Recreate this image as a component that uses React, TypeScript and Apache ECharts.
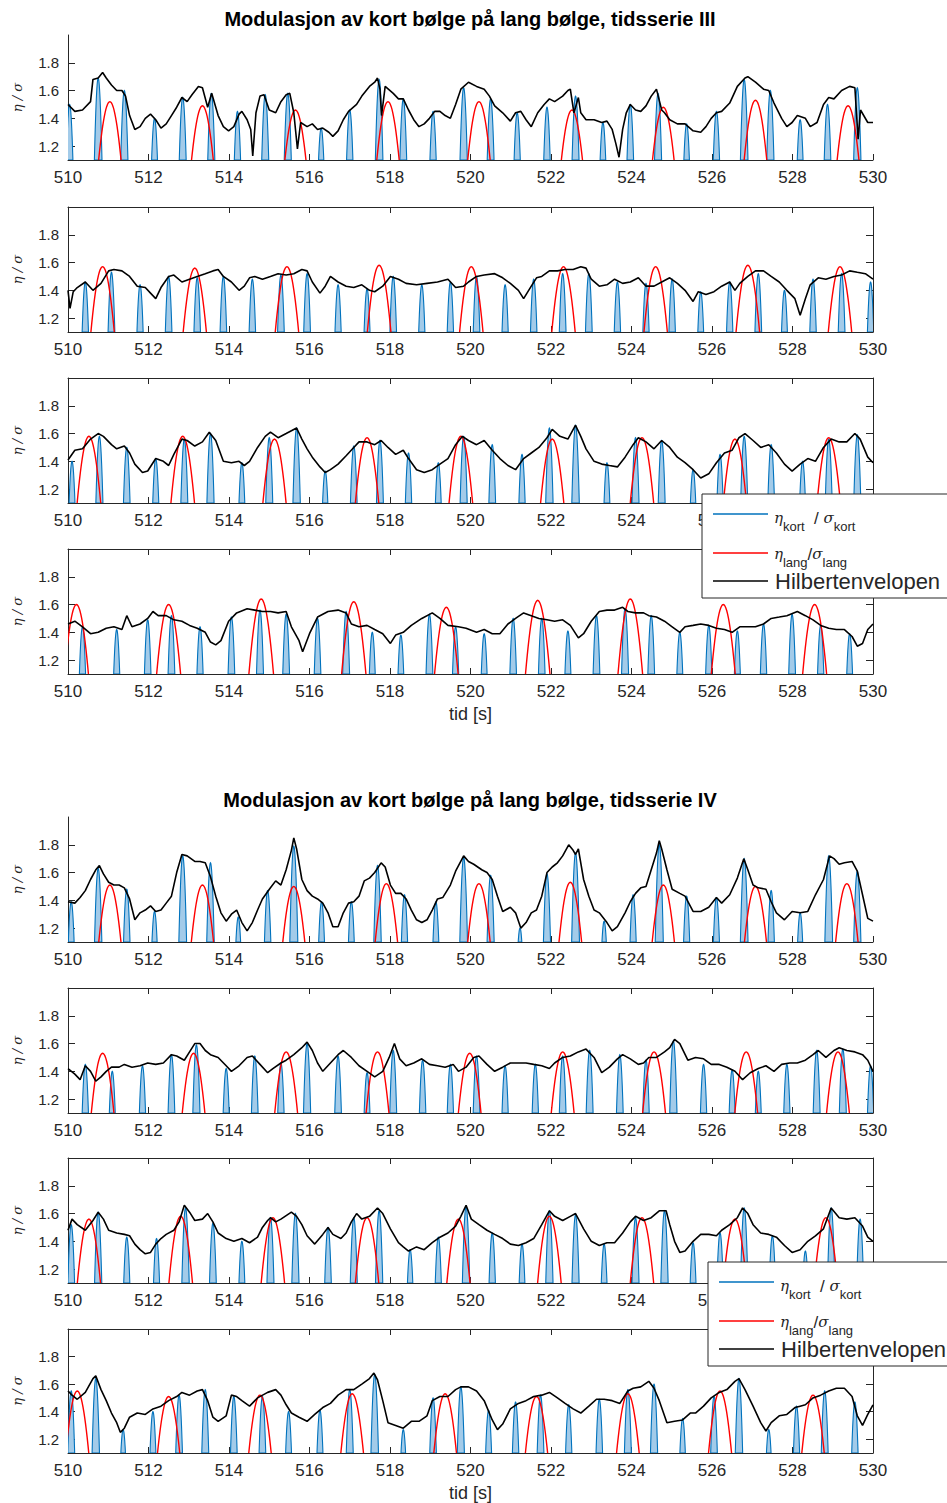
import React, { useEffect, useRef } from 'react';
import * as echarts from 'echarts';

// ---------- data ----------
const X_MIN = 510;
const X_MAX = 530;
const X_STEP = 2;
const Y_MIN = 1.1;
const Y_MAX = 2.0;
const Y_TICKS = [1.2, 1.4, 1.6, 1.8];

const TITLES = [
  'Modulasjon av kort bølge på lang bølge, tidsserie III',
  'Modulasjon av kort bølge på lang bølge, tidsserie IV',
];
const X_LABEL = 'tid [s]';
const Y_LABEL = 'η / σ';
const LEGEND_HILBERT = 'Hilbertenvelopen';

// Hilbert envelope [t, value]
const ENV_1: [number, number][] = [
  [510.00,1.50],[510.17,1.45],[510.36,1.46],[510.56,1.52],[510.62,1.68],[510.75,1.69],[510.86,1.73],[510.95,1.69],
  [511.08,1.64],[511.21,1.60],[511.34,1.60],[511.43,1.56],[511.53,1.42],[511.66,1.32],[511.79,1.34],[511.92,1.40],
  [512.05,1.43],[512.18,1.39],[512.31,1.33],[512.44,1.36],[512.57,1.42],[512.70,1.48],[512.83,1.55],[512.96,1.52],
  [513.08,1.57],[513.24,1.63],[513.34,1.62],[513.47,1.48],[513.57,1.58],[513.73,1.42],[513.86,1.34],[513.99,1.31],
  [514.12,1.34],[514.25,1.43],[514.32,1.45],[514.45,1.39],[514.54,1.32],[514.59,1.13],[514.67,1.44],[514.77,1.56],
  [514.87,1.57],[515.00,1.46],[515.16,1.44],[515.29,1.52],[515.42,1.57],[515.51,1.58],[515.61,1.44],[515.70,1.18],
  [515.78,1.37],[515.94,1.34],[516.07,1.36],[516.20,1.32],[516.33,1.33],[516.48,1.30],[516.58,1.27],[516.71,1.31],
  [516.84,1.39],[516.97,1.45],[517.17,1.50],[517.30,1.56],[517.49,1.63],[517.62,1.66],[517.69,1.69],[517.75,1.61],
  [517.79,1.42],[517.88,1.63],[518.08,1.58],[518.21,1.54],[518.33,1.54],[518.46,1.46],[518.59,1.39],[518.72,1.34],
  [518.85,1.36],[518.98,1.40],[519.11,1.45],[519.24,1.45],[519.37,1.42],[519.50,1.40],[519.63,1.50],[519.76,1.61],
  [519.95,1.66],[520.15,1.63],[520.34,1.61],[520.47,1.56],[520.60,1.49],[520.80,1.44],[520.99,1.38],[521.12,1.44],
  [521.25,1.45],[521.38,1.39],[521.51,1.34],[521.67,1.44],[521.83,1.50],[521.96,1.54],[522.09,1.52],[522.29,1.56],
  [522.42,1.60],[522.48,1.61],[522.57,1.44],[522.68,1.55],[522.74,1.44],[522.87,1.39],[523.07,1.39],[523.26,1.37],
  [523.39,1.38],[523.52,1.32],[523.61,1.22],[523.69,1.12],[523.78,1.32],[523.87,1.44],[523.97,1.50],[524.10,1.46],
  [524.23,1.45],[524.36,1.49],[524.49,1.56],[524.62,1.61],[524.75,1.46],[524.82,1.44],[524.95,1.39],[525.14,1.36],
  [525.33,1.36],[525.53,1.31],[525.72,1.30],[525.85,1.34],[525.98,1.40],[526.11,1.44],[526.24,1.45],[526.44,1.51],
  [526.63,1.63],[526.82,1.69],[526.89,1.70],[527.08,1.66],[527.28,1.61],[527.41,1.60],[527.54,1.51],[527.73,1.40],
  [527.86,1.34],[527.99,1.37],[528.12,1.42],[528.32,1.40],[528.44,1.34],[528.61,1.37],[528.77,1.50],[528.90,1.55],
  [529.03,1.54],[529.22,1.60],[529.42,1.63],[529.55,1.62],[529.63,1.25],[529.69,1.46],[529.87,1.37],[530.00,1.37],
];
const ENV_2: [number, number][] = [
  [510.00,1.40],[510.05,1.27],[510.13,1.39],[510.23,1.42],[510.43,1.46],[510.62,1.40],[510.82,1.45],[511.01,1.54],
  [511.14,1.55],[511.34,1.54],[511.53,1.50],[511.72,1.43],[511.92,1.42],[512.05,1.38],[512.18,1.34],[512.31,1.42],
  [512.50,1.50],[512.63,1.51],[512.83,1.46],[513.02,1.48],[513.21,1.50],[513.41,1.52],[513.60,1.54],[513.73,1.55],
  [513.86,1.50],[514.06,1.46],[514.25,1.40],[514.38,1.43],[514.51,1.49],[514.64,1.50],[514.83,1.48],[515.03,1.50],
  [515.22,1.52],[515.42,1.51],[515.61,1.52],[515.81,1.55],[515.94,1.54],[516.07,1.46],[516.26,1.38],[516.39,1.43],
  [516.52,1.50],[516.71,1.46],[516.91,1.43],[517.10,1.42],[517.30,1.44],[517.49,1.40],[517.62,1.39],[517.82,1.43],
  [518.01,1.50],[518.21,1.48],[518.40,1.45],[518.66,1.44],[518.92,1.45],[519.18,1.46],[519.44,1.48],[519.63,1.42],
  [519.83,1.43],[519.95,1.46],[520.15,1.50],[520.34,1.51],[520.60,1.52],[520.80,1.49],[520.99,1.45],[521.19,1.40],
  [521.32,1.34],[521.51,1.43],[521.64,1.49],[521.77,1.50],[521.96,1.54],[522.16,1.54],[522.35,1.55],[522.55,1.55],
  [522.74,1.57],[522.87,1.56],[523.00,1.48],[523.20,1.43],[523.39,1.44],[523.58,1.48],[523.78,1.45],[523.97,1.46],
  [524.17,1.49],[524.36,1.43],[524.56,1.43],[524.75,1.46],[524.95,1.49],[525.14,1.45],[525.33,1.40],[525.53,1.32],
  [525.66,1.39],[525.85,1.37],[526.05,1.39],[526.24,1.43],[526.44,1.46],[526.57,1.40],[526.69,1.45],[526.89,1.50],
  [527.08,1.54],[527.28,1.54],[527.47,1.50],[527.67,1.46],[527.86,1.40],[528.06,1.34],[528.19,1.22],[528.32,1.34],
  [528.44,1.44],[528.64,1.49],[528.83,1.48],[529.03,1.50],[529.22,1.51],[529.42,1.54],[529.61,1.53],[529.81,1.52],
  [530.00,1.48],
];
const ENV_3: [number, number][] = [
  [510.00,1.41],[510.17,1.48],[510.36,1.49],[510.56,1.56],[510.75,1.60],[510.88,1.58],[511.08,1.52],[511.21,1.49],
  [511.40,1.51],[511.53,1.46],[511.66,1.38],[511.85,1.32],[511.98,1.33],[512.18,1.42],[512.37,1.40],[512.50,1.37],
  [512.63,1.45],[512.83,1.56],[512.96,1.55],[513.15,1.51],[513.34,1.54],[513.51,1.61],[513.67,1.55],[513.86,1.40],
  [514.06,1.39],[514.25,1.40],[514.38,1.37],[514.51,1.40],[514.71,1.50],[514.90,1.58],[515.03,1.61],[515.22,1.57],
  [515.42,1.60],[515.68,1.64],[515.81,1.56],[515.94,1.49],[516.07,1.43],[516.26,1.36],[516.39,1.32],[516.52,1.34],
  [516.71,1.38],[516.91,1.44],[517.10,1.50],[517.23,1.54],[517.43,1.54],[517.62,1.52],[517.78,1.55],[517.95,1.50],
  [518.14,1.45],[518.33,1.48],[518.46,1.42],[518.66,1.34],[518.85,1.32],[519.05,1.34],[519.24,1.38],[519.44,1.42],
  [519.63,1.52],[519.80,1.58],[519.95,1.55],[520.15,1.52],[520.34,1.55],[520.54,1.48],[520.73,1.42],[520.93,1.37],
  [521.12,1.34],[521.32,1.42],[521.51,1.46],[521.70,1.50],[521.90,1.57],[522.03,1.63],[522.22,1.58],[522.42,1.56],
  [522.61,1.66],[522.74,1.58],[522.87,1.49],[523.07,1.40],[523.26,1.38],[523.45,1.37],[523.65,1.36],[523.84,1.43],
  [524.04,1.52],[524.17,1.57],[524.36,1.54],[524.56,1.49],[524.75,1.55],[524.95,1.50],[525.14,1.43],[525.33,1.39],
  [525.53,1.34],[525.72,1.28],[525.92,1.31],[526.11,1.39],[526.31,1.46],[526.50,1.48],[526.67,1.57],[526.82,1.60],
  [527.02,1.55],[527.21,1.50],[527.41,1.52],[527.60,1.46],[527.80,1.38],[527.99,1.33],[528.19,1.38],[528.38,1.42],
  [528.57,1.40],[528.77,1.50],[528.96,1.56],[529.16,1.54],[529.35,1.54],[529.55,1.60],[529.68,1.56],[529.87,1.43],
  [530.00,1.39],
];
const ENV_4: [number, number][] = [
  [510.00,1.46],[510.17,1.48],[510.36,1.44],[510.56,1.39],[510.75,1.40],[510.95,1.43],[511.14,1.44],[511.34,1.42],
  [511.46,1.52],[511.59,1.44],[511.79,1.46],[511.98,1.50],[512.11,1.55],[512.24,1.52],[512.44,1.52],[512.63,1.49],
  [512.83,1.48],[513.02,1.45],[513.21,1.43],[513.41,1.40],[513.54,1.33],[513.67,1.31],[513.80,1.34],[513.99,1.48],
  [514.19,1.54],[514.45,1.57],[514.64,1.56],[514.83,1.55],[515.03,1.55],[515.22,1.54],[515.42,1.55],[515.55,1.44],
  [515.74,1.34],[515.83,1.26],[516.00,1.39],[516.20,1.51],[516.46,1.55],[516.71,1.56],[516.91,1.54],[517.04,1.46],
  [517.23,1.44],[517.43,1.45],[517.62,1.42],[517.82,1.39],[518.01,1.32],[518.14,1.38],[518.33,1.40],[518.53,1.45],
  [518.79,1.50],[519.05,1.54],[519.24,1.50],[519.44,1.45],[519.70,1.44],[519.89,1.43],[520.15,1.40],[520.34,1.42],
  [520.54,1.39],[520.73,1.39],[520.93,1.46],[521.12,1.50],[521.32,1.54],[521.51,1.52],[521.70,1.50],[521.90,1.49],
  [522.09,1.48],[522.29,1.49],[522.48,1.45],[522.68,1.36],[522.81,1.39],[523.00,1.48],[523.20,1.55],[523.39,1.56],
  [523.58,1.56],[523.78,1.58],[523.91,1.55],[524.10,1.54],[524.30,1.54],[524.43,1.52],[524.62,1.51],[524.82,1.48],
  [525.01,1.44],[525.20,1.40],[525.33,1.44],[525.53,1.45],[525.72,1.46],[525.92,1.45],[526.11,1.43],[526.31,1.42],
  [526.50,1.40],[526.69,1.44],[526.89,1.44],[527.08,1.44],[527.28,1.46],[527.47,1.50],[527.67,1.51],[527.86,1.52],
  [528.12,1.55],[528.32,1.52],[528.51,1.49],[528.70,1.45],[528.90,1.43],[529.09,1.42],[529.29,1.42],[529.48,1.37],
  [529.61,1.30],[529.74,1.32],[529.87,1.42],[530.00,1.46],
];
const ENV_5: [number, number][] = [
  [510.00,1.39],[510.17,1.38],[510.30,1.42],[510.43,1.47],[510.56,1.55],[510.69,1.62],[510.78,1.65],[510.88,1.59],
  [511.01,1.53],[511.14,1.51],[511.27,1.51],[511.40,1.49],[511.53,1.41],[511.66,1.26],[511.79,1.31],[511.92,1.33],
  [512.05,1.36],[512.18,1.32],[512.31,1.33],[512.44,1.38],[512.57,1.43],[512.70,1.60],[512.83,1.73],[512.96,1.72],
  [513.15,1.68],[513.28,1.68],[513.41,1.67],[513.54,1.57],[513.67,1.43],[513.80,1.31],[513.93,1.25],[514.06,1.30],
  [514.19,1.33],[514.32,1.24],[514.45,1.18],[514.58,1.24],[514.71,1.33],[514.83,1.41],[515.03,1.49],[515.16,1.54],
  [515.29,1.51],[515.42,1.62],[515.55,1.76],[515.61,1.85],[515.68,1.77],[515.81,1.55],[515.94,1.47],[516.07,1.43],
  [516.20,1.41],[516.33,1.38],[516.46,1.31],[516.58,1.21],[516.71,1.21],[516.84,1.31],[516.97,1.38],[517.10,1.39],
  [517.23,1.43],[517.36,1.54],[517.49,1.56],[517.62,1.60],[517.78,1.67],[517.88,1.64],[518.01,1.51],[518.14,1.45],
  [518.27,1.45],[518.40,1.41],[518.53,1.33],[518.66,1.26],[518.79,1.24],[518.92,1.26],[519.05,1.33],[519.18,1.41],
  [519.31,1.42],[519.50,1.51],[519.63,1.61],[519.83,1.72],[519.95,1.68],[520.08,1.66],[520.28,1.62],[520.41,1.60],
  [520.54,1.55],[520.67,1.43],[520.80,1.32],[520.99,1.35],[521.12,1.31],[521.25,1.20],[521.38,1.24],[521.51,1.31],
  [521.64,1.33],[521.77,1.43],[521.90,1.60],[522.03,1.64],[522.16,1.67],[522.29,1.72],[522.44,1.80],[522.55,1.76],
  [522.61,1.73],[522.68,1.77],[522.81,1.55],[522.94,1.43],[523.07,1.33],[523.20,1.31],[523.39,1.24],[523.52,1.18],
  [523.65,1.21],[523.84,1.31],[523.97,1.39],[524.10,1.45],[524.23,1.49],[524.36,1.50],[524.49,1.62],[524.62,1.74],
  [524.69,1.83],[524.75,1.77],[524.88,1.62],[525.01,1.48],[525.20,1.45],[525.33,1.43],[525.53,1.32],[525.72,1.32],
  [525.92,1.35],[526.11,1.42],[526.24,1.38],[526.44,1.44],[526.63,1.56],[526.79,1.70],[526.89,1.62],[527.02,1.51],
  [527.15,1.49],[527.34,1.48],[527.47,1.39],[527.60,1.31],[527.80,1.26],[527.99,1.32],[528.19,1.31],[528.38,1.32],
  [528.57,1.44],[528.77,1.55],[528.92,1.72],[529.03,1.70],[529.16,1.66],[529.29,1.67],[529.48,1.68],[529.61,1.61],
  [529.74,1.44],[529.87,1.27],[530.00,1.25],
];
const ENV_6: [number, number][] = [
  [510.00,1.42],[510.17,1.38],[510.30,1.34],[510.43,1.44],[510.56,1.40],[510.69,1.33],[510.82,1.36],[510.95,1.40],
  [511.08,1.43],[511.27,1.43],[511.40,1.45],[511.59,1.43],[511.79,1.44],[511.98,1.46],[512.18,1.45],[512.37,1.46],
  [512.57,1.52],[512.70,1.51],[512.89,1.48],[513.02,1.54],[513.15,1.60],[513.28,1.60],[513.41,1.55],[513.54,1.52],
  [513.73,1.50],[513.93,1.44],[514.06,1.40],[514.25,1.44],[514.45,1.50],[514.58,1.51],[514.77,1.45],[514.96,1.39],
  [515.09,1.42],[515.29,1.46],[515.42,1.48],[515.61,1.52],[515.81,1.57],[515.94,1.61],[516.07,1.55],[516.20,1.46],
  [516.33,1.40],[516.52,1.46],[516.71,1.52],[516.84,1.55],[517.04,1.50],[517.23,1.44],[517.43,1.40],[517.62,1.36],
  [517.82,1.40],[517.98,1.50],[518.11,1.60],[518.24,1.49],[518.40,1.44],[518.59,1.46],[518.79,1.49],[518.98,1.45],
  [519.18,1.44],[519.37,1.43],[519.57,1.45],[519.70,1.40],[519.89,1.43],[520.08,1.50],[520.21,1.51],[520.41,1.45],
  [520.60,1.40],[520.80,1.43],[520.99,1.46],[521.19,1.46],[521.38,1.46],[521.57,1.45],[521.77,1.44],[521.96,1.42],
  [522.09,1.46],[522.29,1.50],[522.48,1.51],[522.68,1.54],[522.87,1.56],[523.07,1.50],[523.26,1.39],[523.45,1.43],
  [523.65,1.49],[523.78,1.52],[523.97,1.49],[524.17,1.45],[524.30,1.46],[524.43,1.50],[524.62,1.50],[524.82,1.54],
  [524.95,1.57],[525.07,1.63],[525.20,1.60],[525.40,1.48],[525.59,1.50],[525.79,1.49],[525.98,1.45],[526.18,1.45],
  [526.37,1.43],[526.57,1.40],[526.76,1.34],[526.95,1.39],[527.15,1.42],[527.34,1.44],[527.54,1.40],[527.73,1.45],
  [527.93,1.46],[528.12,1.46],[528.32,1.48],[528.51,1.52],[528.64,1.55],[528.83,1.50],[529.03,1.55],[529.16,1.57],
  [529.35,1.55],[529.55,1.54],[529.74,1.52],[529.87,1.48],[530.00,1.40],
];
const ENV_7: [number, number][] = [
  [510.00,1.48],[510.10,1.56],[510.23,1.52],[510.43,1.48],[510.62,1.55],[510.75,1.61],[510.88,1.56],[511.01,1.48],
  [511.21,1.46],[511.40,1.45],[511.53,1.44],[511.66,1.38],[511.79,1.34],[511.92,1.31],[512.05,1.32],[512.18,1.38],
  [512.31,1.42],[512.44,1.45],[512.63,1.48],[512.76,1.54],[512.89,1.66],[513.02,1.61],[513.15,1.55],[513.34,1.56],
  [513.47,1.60],[513.60,1.54],[513.73,1.46],[513.93,1.42],[514.12,1.40],[514.32,1.42],[514.51,1.39],[514.71,1.43],
  [514.83,1.50],[514.96,1.55],[515.03,1.57],[515.16,1.54],[515.29,1.56],[515.55,1.61],[515.68,1.58],[515.81,1.52],
  [515.94,1.44],[516.13,1.38],[516.33,1.45],[516.46,1.50],[516.58,1.45],[516.78,1.42],[516.91,1.46],[517.04,1.54],
  [517.17,1.60],[517.30,1.56],[517.49,1.58],[517.69,1.64],[517.82,1.60],[518.01,1.49],[518.21,1.39],[518.33,1.36],
  [518.46,1.33],[518.66,1.36],[518.85,1.34],[519.05,1.39],[519.24,1.43],[519.44,1.46],[519.63,1.51],[519.76,1.58],
  [519.89,1.66],[520.02,1.56],[520.21,1.52],[520.41,1.48],[520.60,1.45],[520.80,1.42],[520.99,1.38],[521.19,1.37],
  [521.38,1.39],[521.57,1.42],[521.77,1.52],[521.96,1.62],[522.09,1.58],[522.29,1.55],[522.48,1.58],[522.61,1.60],
  [522.81,1.49],[523.00,1.40],[523.20,1.37],[523.39,1.39],[523.58,1.39],[523.78,1.46],[523.97,1.54],[524.10,1.58],
  [524.30,1.55],[524.49,1.57],[524.69,1.62],[524.86,1.62],[524.95,1.52],[525.07,1.40],[525.20,1.32],[525.33,1.33],
  [525.53,1.40],[525.72,1.45],[525.92,1.45],[526.11,1.44],[526.24,1.48],[526.44,1.52],[526.63,1.57],[526.76,1.64],
  [526.89,1.60],[527.02,1.52],[527.21,1.46],[527.41,1.45],[527.60,1.43],[527.80,1.37],[527.99,1.32],[528.19,1.34],
  [528.38,1.40],[528.57,1.44],[528.77,1.49],[528.96,1.64],[529.16,1.57],[529.35,1.56],[529.55,1.57],[529.74,1.51],
  [529.87,1.43],[530.00,1.40],
];
const ENV_8: [number, number][] = [
  [510.00,1.55],[510.10,1.52],[510.23,1.49],[510.43,1.54],[510.62,1.64],[510.69,1.66],[510.82,1.56],[510.95,1.48],
  [511.08,1.39],[511.21,1.32],[511.30,1.25],[511.40,1.28],[511.53,1.36],[511.72,1.39],[511.92,1.38],[512.11,1.42],
  [512.31,1.44],[512.50,1.48],[512.70,1.51],[512.83,1.54],[513.02,1.52],[513.21,1.55],[513.34,1.56],[513.47,1.48],
  [513.60,1.36],[513.73,1.33],[513.93,1.37],[514.06,1.52],[514.19,1.51],[514.32,1.48],[514.51,1.44],[514.71,1.50],
  [514.96,1.54],[515.16,1.56],[515.29,1.52],[515.42,1.45],[515.55,1.39],[515.74,1.36],[515.94,1.33],[516.13,1.38],
  [516.33,1.43],[516.52,1.46],[516.71,1.52],[516.91,1.56],[517.10,1.56],[517.30,1.60],[517.49,1.64],[517.60,1.68],
  [517.69,1.63],[517.82,1.48],[517.95,1.32],[518.14,1.30],[518.33,1.28],[518.53,1.33],[518.72,1.33],[518.92,1.37],
  [519.05,1.48],[519.24,1.51],[519.44,1.51],[519.63,1.56],[519.76,1.58],[519.95,1.58],[520.15,1.55],[520.34,1.48],
  [520.54,1.34],[520.67,1.27],[520.80,1.31],[520.99,1.42],[521.19,1.46],[521.38,1.48],[521.57,1.51],[521.77,1.52],
  [521.96,1.54],[522.16,1.50],[522.35,1.46],[522.55,1.42],[522.74,1.39],[522.94,1.44],[523.13,1.49],[523.32,1.49],
  [523.52,1.48],[523.71,1.46],[523.91,1.55],[524.04,1.57],[524.23,1.58],[524.43,1.62],[524.56,1.57],[524.69,1.48],
  [524.88,1.32],[525.07,1.33],[525.27,1.34],[525.46,1.39],[525.59,1.39],[525.79,1.44],[525.98,1.50],[526.18,1.54],
  [526.37,1.56],[526.57,1.62],[526.67,1.64],[526.82,1.56],[527.02,1.44],[527.21,1.32],[527.34,1.26],[527.47,1.32],
  [527.67,1.37],[527.86,1.38],[528.06,1.43],[528.19,1.44],[528.32,1.45],[528.51,1.50],[528.70,1.52],[528.90,1.55],
  [529.09,1.57],[529.29,1.57],[529.48,1.51],[529.61,1.37],[529.74,1.30],[529.87,1.38],[530.00,1.45],
];

// short wave crests above the axis floor [t, crest]
const KORT_1: [number, number][] = [
  [510.04,1.50],[510.75,1.69],[511.40,1.60],[512.15,1.40],[512.85,1.55],[513.56,1.58],[514.21,1.45],[514.90,1.57],
  [515.46,1.58],[516.29,1.33],[517.00,1.46],[517.73,1.68],[518.33,1.54],[519.07,1.45],[519.83,1.62],[520.50,1.54],
  [521.16,1.44],[521.90,1.48],[522.61,1.56],[523.29,1.37],[523.97,1.50],[524.66,1.58],[525.37,1.36],[526.11,1.45],
  [526.80,1.68],[527.45,1.60],[528.19,1.39],[528.87,1.50],[529.61,1.62],
];
const KORT_2: [number, number][] = [
  [510.43,1.46],[511.08,1.53],[511.79,1.44],[512.50,1.50],[513.21,1.49],[513.86,1.50],[514.58,1.48],[515.29,1.51],
  [515.94,1.52],[516.71,1.44],[517.43,1.41],[518.08,1.50],[518.79,1.44],[519.50,1.46],[520.15,1.50],[520.86,1.44],
  [521.57,1.48],[522.29,1.52],[522.94,1.52],[523.65,1.46],[524.36,1.45],[525.01,1.48],[525.72,1.39],[526.44,1.46],
  [527.15,1.52],[527.80,1.40],[528.51,1.48],[529.22,1.52],[529.94,1.46],
];
const KORT_3: [number, number][] = [
  [510.10,1.40],[510.78,1.58],[511.46,1.50],[512.18,1.42],[512.89,1.56],[513.54,1.60],[514.32,1.39],[515.00,1.57],
  [515.68,1.64],[516.39,1.33],[517.10,1.51],[517.75,1.55],[518.46,1.46],[519.20,1.39],[519.83,1.58],[520.54,1.52],
  [521.28,1.45],[521.96,1.64],[522.61,1.66],[523.39,1.39],[524.10,1.57],[524.75,1.55],[525.53,1.34],[526.20,1.45],
  [526.80,1.58],[527.47,1.52],[528.25,1.40],[528.90,1.56],[529.61,1.59],
];
const KORT_4: [number, number][] = [
  [510.36,1.44],[511.21,1.42],[511.98,1.49],[512.57,1.52],[513.28,1.44],[514.06,1.51],[514.77,1.56],[515.42,1.53],
  [516.20,1.50],[516.91,1.55],[517.56,1.40],[518.27,1.38],[518.98,1.53],[519.63,1.44],[520.34,1.39],[521.06,1.50],
  [521.77,1.50],[522.42,1.41],[523.13,1.52],[523.84,1.57],[524.49,1.52],[525.20,1.40],[525.92,1.45],[526.63,1.41],
  [527.28,1.46],[527.99,1.53],[528.70,1.45],[529.42,1.39],
];
const KORT_5: [number, number][] = [
  [510.08,1.39],[510.75,1.63],[511.46,1.48],[512.15,1.32],[512.85,1.72],[513.54,1.67],[514.23,1.28],[514.96,1.47],
  [515.61,1.79],[516.30,1.39],[517.04,1.39],[517.69,1.65],[518.36,1.44],[519.14,1.39],[519.83,1.71],[520.50,1.58],
  [521.23,1.20],[521.90,1.59],[522.61,1.74],[523.32,1.25],[524.04,1.44],[524.69,1.80],[525.37,1.43],[526.11,1.42],
  [526.80,1.70],[527.47,1.47],[528.19,1.31],[528.90,1.72],[529.61,1.61],
];
const KORT_6: [number, number][] = [
  [510.43,1.45],[511.10,1.40],[511.85,1.44],[512.57,1.52],[513.19,1.59],[513.93,1.42],[514.64,1.51],[515.29,1.46],
  [515.94,1.60],[516.71,1.51],[517.43,1.39],[518.08,1.55],[518.81,1.48],[519.50,1.45],[520.15,1.51],[520.86,1.44],
  [521.61,1.45],[522.29,1.51],[522.96,1.55],[523.71,1.52],[524.36,1.48],[525.04,1.62],[525.79,1.45],[526.50,1.41],
  [527.15,1.40],[527.86,1.45],[528.60,1.55],[529.25,1.56],[529.94,1.44],
];
const KORT_7: [number, number][] = [
  [510.08,1.52],[510.75,1.61],[511.46,1.43],[512.20,1.42],[512.92,1.64],[513.60,1.53],[514.32,1.40],[515.03,1.57],
  [515.65,1.60],[516.46,1.50],[517.10,1.57],[517.73,1.62],[518.50,1.34],[519.20,1.43],[519.89,1.65],[520.54,1.46],
  [521.28,1.38],[521.96,1.62],[522.61,1.59],[523.32,1.38],[524.10,1.57],[524.82,1.62],[525.53,1.39],[526.20,1.46],
  [526.80,1.64],[527.50,1.44],[528.32,1.33],[528.96,1.64],[529.68,1.56],
];
const KORT_8: [number, number][] = [
  [510.08,1.55],[510.69,1.64],[511.37,1.27],[512.11,1.40],[512.76,1.52],[513.41,1.56],[514.12,1.51],[514.83,1.51],
  [515.48,1.40],[516.26,1.41],[517.00,1.56],[517.62,1.67],[518.33,1.27],[519.07,1.50],[519.76,1.58],[520.45,1.41],
  [521.12,1.47],[521.74,1.52],[522.44,1.45],[523.20,1.49],[523.91,1.56],[524.56,1.60],[525.27,1.35],[526.05,1.51],
  [526.67,1.64],[527.41,1.27],[528.10,1.44],[528.80,1.55],[529.55,1.47],
];

// long wave crests [t, crest]
const LANG_1: [number, number][] = [
  [511.04,1.52],[513.34,1.49],[515.65,1.46],[517.95,1.52],[520.21,1.52],[522.52,1.46],[524.79,1.48],[527.08,1.53],[529.38,1.49],
];
const LANG_2: [number, number][] = [
  [510.86,1.57],[513.15,1.56],[515.44,1.57],[517.73,1.58],[520.02,1.57],[522.31,1.57],[524.60,1.57],[526.89,1.58],[529.18,1.57],
];
const LANG_3: [number, number][] = [
  [510.52,1.58],[512.85,1.58],[515.13,1.56],[517.43,1.57],[519.76,1.58],[522.03,1.56],[524.26,1.57],[526.57,1.56],[528.90,1.57],
];
const LANG_4: [number, number][] = [
  [510.21,1.60],[512.50,1.60],[514.80,1.64],[517.10,1.62],[519.40,1.58],[521.67,1.63],[523.97,1.64],[526.28,1.60],[528.55,1.60],
];
const LANG_5: [number, number][] = [
  [511.04,1.51],[513.34,1.51],[515.61,1.50],[517.91,1.52],[520.21,1.52],[522.48,1.53],[524.79,1.51],[527.08,1.50],[529.35,1.52],
];
const LANG_6: [number, number][] = [
  [510.86,1.53],[513.12,1.53],[515.42,1.54],[517.69,1.54],[519.98,1.53],[522.29,1.54],[524.56,1.54],[526.85,1.54],[529.13,1.54],
];
const LANG_7: [number, number][] = [
  [510.52,1.56],[512.80,1.58],[515.09,1.57],[517.43,1.57],[519.70,1.56],[521.96,1.58],[524.26,1.57],[526.57,1.56],[528.83,1.57],
];
const LANG_8: [number, number][] = [
  [510.23,1.55],[512.50,1.51],[514.77,1.52],[517.06,1.53],[519.37,1.53],[521.64,1.51],[523.91,1.53],[526.20,1.55],[528.51,1.52],
];

// wave periods used for the crest glyph shape (s)
const KORT_PERIOD = 0.69;
const LANG_PERIOD = 2.3;

const PANELS = [
  { env: ENV_1, kort: KORT_1, lang: LANG_1 },
  { env: ENV_2, kort: KORT_2, lang: LANG_2 },
  { env: ENV_3, kort: KORT_3, lang: LANG_3 },
  { env: ENV_4, kort: KORT_4, lang: LANG_4 },
  { env: ENV_5, kort: KORT_5, lang: LANG_5 },
  { env: ENV_6, kort: KORT_6, lang: LANG_6 },
  { env: ENV_7, kort: KORT_7, lang: LANG_7 },
  { env: ENV_8, kort: KORT_8, lang: LANG_8 },
];

// ---------- layout / style ----------
const W = 947;
const H = 1503;
const GRID_LEFT = 68;
const GRID_W = 805;
const GRID_H = 125;
const GRID_TOPS = [35, 207, 378, 549, 817, 988, 1158, 1329];
const BOXED = [false, true, true, true, false, true, true, true];
// panels whose lower-right tick labels sit under the legend box
const LEGEND_PANELS = [2, 6];
const LEGEND_HIDES_FROM = 528;
const AX = '#262626';
const SANS = '"Liberation Sans", Arial, Helvetica, sans-serif';
const SERIF = '"DejaVu Serif", serif';
const BLUE = '#0072BD';
const BLUE_FILL = '#a3cbe9';
const RED = '#ff0000';

function crestSeries(data: [number, number][], period: number, stroke: string, fill: string | null, xi: number, yi: number, z: number) {
  return {
    type: 'custom',
    coordinateSystem: 'cartesian2d',
    xAxisIndex: xi,
    yAxisIndex: yi,
    clip: true,
    z,
    silent: true,
    data,
    renderItem: (_params: any, api: any) => {
      const t0 = api.value(0);
      const h = api.value(1);
      const ratio = Y_MIN / h;
      if (ratio >= 1) return null;
      const half = (Math.acos(ratio) / (2 * Math.PI)) * period;
      const pts: number[][] = [];
      const n = 28;
      for (let k = 0; k <= n; k++) {
        const dt = -half + (2 * half * k) / n;
        const v = h * Math.cos((2 * Math.PI * dt) / period);
        pts.push(api.coord([t0 + dt, v]));
      }
      if (fill) {
        return {
          type: 'polygon',
          shape: { points: pts },
          style: { fill, stroke, lineWidth: 1.1 },
        };
      }
      return {
        type: 'polyline',
        shape: { points: pts },
        style: { fill: null, stroke, lineWidth: 1.4 },
      };
    },
  };
}

const LEGEND_RICH = {
  g: { fontSize: 15, fontFamily: SERIF, fontStyle: 'italic', fill: AX, color: AX, lineHeight: 18, verticalAlign: 'top' },
  s: { fontSize: 13, fontFamily: SANS, fill: AX, color: AX, lineHeight: 14, padding: [10, 0, 0, 0], verticalAlign: 'top' },
  n: { fontSize: 17, fontFamily: SANS, fill: AX, color: AX, lineHeight: 18, verticalAlign: 'top' },
};

function legendGraphics(x0: number, y0: number) {
  const els: any[] = [];
  els.push({ type: 'rect', z: 100, shape: { x: x0, y: y0, width: 270, height: 104 }, style: { fill: '#fff', stroke: AX, lineWidth: 1 } });
  const rows = [y0 + 20, y0 + 59, y0 + 87];
  const cols = [BLUE, RED, '#000'];
  rows.forEach((ry, k) => {
    els.push({ type: 'line', z: 101, shape: { x1: x0 + 11, y1: ry, x2: x0 + 66, y2: ry }, style: { stroke: cols[k], lineWidth: k === 2 ? 1.3 : 1.6 } });
  });
  els.push({
    type: 'text', z: 101, x: x0 + 72, y: rows[0] + 5,
    style: { text: '{g|η}{s|kort}{n|  / }{g|σ}{s|kort}', rich: LEGEND_RICH, textVerticalAlign: 'middle', fill: AX },
  });
  els.push({
    type: 'text', z: 101, x: x0 + 72, y: rows[1] + 2,
    style: { text: '{g|η}{s|lang}{n|/}{g|σ}{s|lang}', rich: LEGEND_RICH, textVerticalAlign: 'middle', fill: AX },
  });
  els.push({
    type: 'text', z: 101, x: x0 + 73, y: rows[2],
    style: { text: LEGEND_HILBERT, font: `22px ${SANS}`, fill: AX, textVerticalAlign: 'middle' },
  });
  return els;
}

function buildOption() {
  const grid: any[] = [];
  const xAxis: any[] = [];
  const yAxis: any[] = [];
  const series: any[] = [];
  PANELS.forEach((p, i) => {
    grid.push({ left: GRID_LEFT, top: GRID_TOPS[i], width: GRID_W, height: GRID_H });
    const xi = xAxis.length;
    const underLegend = LEGEND_PANELS.includes(i);
    xAxis.push({
      type: 'value', gridIndex: i, position: 'bottom', min: X_MIN, max: X_MAX, interval: X_STEP,
      axisLine: { show: true, onZero: false, lineStyle: { color: AX, width: 1 } },
      axisTick: { show: true, inside: true, length: 6, lineStyle: { color: AX } },
      axisLabel: {
        color: AX, fontSize: 17, fontFamily: SANS, margin: 9,
        formatter: (v: number) => (underLegend && v >= LEGEND_HIDES_FROM ? '' : String(v)),
      },
      splitLine: { show: false },
      name: i === 3 || i === 7 ? X_LABEL : '',
      nameLocation: 'middle', nameGap: 31,
      nameTextStyle: { color: AX, fontSize: 18, fontFamily: SANS },
    });
    if (BOXED[i]) {
      xAxis.push({
        type: 'value', gridIndex: i, position: 'top', min: X_MIN, max: X_MAX, interval: X_STEP,
        axisLine: { show: true, onZero: false, lineStyle: { color: AX, width: 1 } },
        axisTick: { show: true, inside: true, length: 6, lineStyle: { color: AX } },
        axisLabel: { show: false }, splitLine: { show: false },
      });
    }
    const yi = yAxis.length;
    yAxis.push({
      type: 'value', gridIndex: i, position: 'left', min: Y_MIN, max: Y_MAX,
      axisLine: { show: true, onZero: false, lineStyle: { color: AX, width: 1 } },
      axisTick: { show: true, inside: true, length: 7, customValues: Y_TICKS, lineStyle: { color: AX } },
      axisLabel: { color: AX, fontSize: 15, fontFamily: SANS, margin: 9, customValues: Y_TICKS, formatter: (v: number) => v.toFixed(1) },
      splitLine: { show: false },
      name: Y_LABEL, nameLocation: 'middle', nameGap: 44, nameRotate: 90,
      nameTextStyle: { color: AX, fontSize: 13, fontFamily: SERIF, fontStyle: 'italic' },
    });
    if (BOXED[i]) {
      yAxis.push({
        type: 'value', gridIndex: i, position: 'right', min: Y_MIN, max: Y_MAX,
        axisLine: { show: true, onZero: false, lineStyle: { color: AX, width: 1 } },
        axisTick: { show: true, inside: true, length: 7, customValues: Y_TICKS, lineStyle: { color: AX } },
        axisLabel: { show: false }, splitLine: { show: false },
      });
    }
    series.push(crestSeries(p.kort, KORT_PERIOD, BLUE, BLUE_FILL, xi, yi, 2));
    series.push(crestSeries(p.lang, LANG_PERIOD, RED, null, xi, yi, 3));
    series.push({
      type: 'line', xAxisIndex: xi, yAxisIndex: yi, data: p.env, showSymbol: false, symbol: 'none',
      lineStyle: { color: '#000', width: 1.6 }, z: 4, silent: true, clip: true,
    });
  });

  const graphic: any[] = [
    { type: 'text', x: 470, y: 19, style: { text: TITLES[0], font: `bold 20px ${SANS}`, fill: '#000', textAlign: 'center', textVerticalAlign: 'middle' } },
    { type: 'text', x: 470, y: 800, style: { text: TITLES[1], font: `bold 20px ${SANS}`, fill: '#000', textAlign: 'center', textVerticalAlign: 'middle' } },
    ...legendGraphics(702, 494),
    ...legendGraphics(708, 1262),
  ];

  return {
    animation: false,
    backgroundColor: '#fff',
    grid, xAxis, yAxis, series, graphic,
  };
}

export default function App() {
  const ref = useRef<HTMLDivElement>(null);
  useEffect(() => {
    if (!ref.current) return;
    const chart = echarts.init(ref.current, undefined, { renderer: 'svg' });
    chart.setOption(buildOption() as any);
    return () => chart.dispose();
  }, []);
  return <div ref={ref} style={{ position: 'absolute', left: 0, top: 0, width: W, height: H }} />;
}
